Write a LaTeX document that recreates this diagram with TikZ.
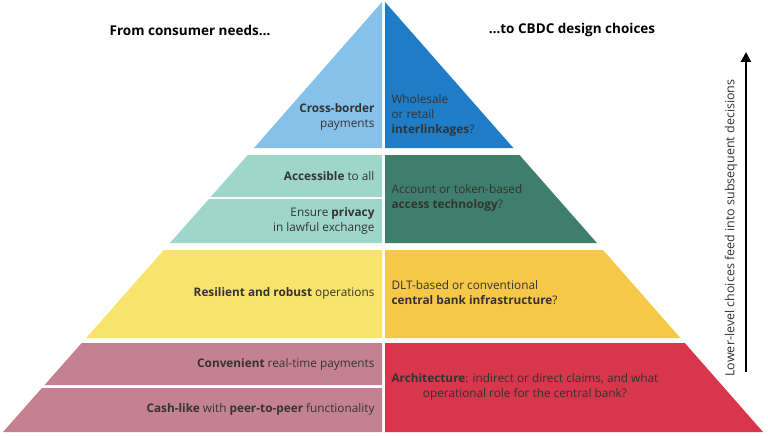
\documentclass[tikz,border=0pt]{standalone}
\usepackage{fontspec}
\setmainfont{Open Sans}
\usetikzlibrary{arrows.meta}
\definecolor{clb}{HTML}{86C1EA}
\definecolor{cdb}{HTML}{1F7DC8}
\definecolor{clt}{HTML}{9FD6CC}
\definecolor{cdg}{HTML}{3E7E6B}
\definecolor{cly}{HTML}{F8E46C}
\definecolor{cdy}{HTML}{F7C748}
\definecolor{clm}{HTML}{C48290}
\definecolor{cdr}{HTML}{D8364C}
\definecolor{ctx}{HTML}{333333}
\tikzset{x=1pt,y=-1pt,
 ltext/.style={font=\fontsize{11.8}{15}\selectfont,text=ctx,align=right,anchor=east},
 rtext/.style={font=\fontsize{11.8}{15}\selectfont,text=ctx,align=left,anchor=west},
 hd/.style={font=\bfseries\fontsize{13.5}{16}\selectfont}}
\begin{document}
\begin{tikzpicture}
\useasboundingbox[fill=white] (0,0) rectangle (768,436);
% tier 1
\fill[clb] (382,2) -- ({383-0.8837*146},148) -- (382,148) -- cycle;
\fill[cdb] (385,2) -- ({385+0.8791*146},148) -- (385,148) -- cycle;
% tier 2
\fill[clt] ({383-0.8837*153},155) -- ({383-0.8837*195},197) -- (382,197) -- (382,155) -- cycle;
\fill[clt] ({383-0.8837*197},199) -- ({383-0.8837*241},243) -- (382,243) -- (382,199) -- cycle;
\fill[cdg] (385,155) -- ({385+0.8791*153},155) -- ({385+0.8791*241},243) -- (385,243) -- cycle;
% tier 3
\fill[cly] ({383-0.8837*248},250) -- ({383-0.8837*336},338) -- (382,338) -- (382,250) -- cycle;
\fill[cdy] (385,250) -- ({385+0.8791*248},250) -- ({385+0.8791*336},338) -- (385,338) -- cycle;
% tier 4
\fill[clm] ({383-0.8837*341},343) -- ({383-0.8837*383},385) -- (382,385) -- (382,343) -- cycle;
\fill[clm] ({383-0.8837*386},388) -- ({383-0.8837*430},432) -- (382,432) -- (382,388) -- cycle;
\fill[cdr] (385,343) -- ({385+0.8791*341},343) -- ({385+0.8791*430},432) -- (385,432) -- cycle;
% headers
\node[hd] (h1) at (190,30) {From consumer needs\dots};
\node[hd] (h2) at (572,30) {\dots to CBDC design choices};
% texts
\node[ltext] (a) at (378,117) {\textbf{Cross-border}\\payments};
\node[rtext] (b) at (388,115) {Wholesale\\or retail\\\textbf{interlinkages}?};
\node[ltext] (c) at (378,176) {\textbf{Accessible} to all};
\node[ltext] (d) at (378,221) {Ensure \textbf{privacy}\\in lawful exchange};
\node[rtext] (e) at (388,198) {Account or token-based\\\textbf{access technology}?};
\node[ltext] (f) at (378,293) {\textbf{Resilient and robust} operations};
\node[rtext] (g) at (388,293) {DLT-based or conventional\\\textbf{central bank infrastructure}?};
\node[ltext] (h) at (378,364) {\textbf{Convenient} real-time payments};
\node[ltext] (i) at (378,409) {\textbf{Cash-like} with \textbf{peer-to-peer} functionality};
\node[rtext,align=center] (j) at (388,387) {\textbf{Architecture}: indirect or direct claims, and what\\operational role for the central bank?};
% arrow
\coordinate (s) at (746,372);
\coordinate (t) at (746,52);
\draw[line width=2.4pt,-{Triangle[length=10pt,width=10pt]}] (s) -- (t);
\node[rotate=90,font=\fontsize{12.5}{14}\selectfont,text=ctx] (k) at (731,228) {Lower-level choices feed into subsequent decisions};
\end{tikzpicture}
\end{document}
